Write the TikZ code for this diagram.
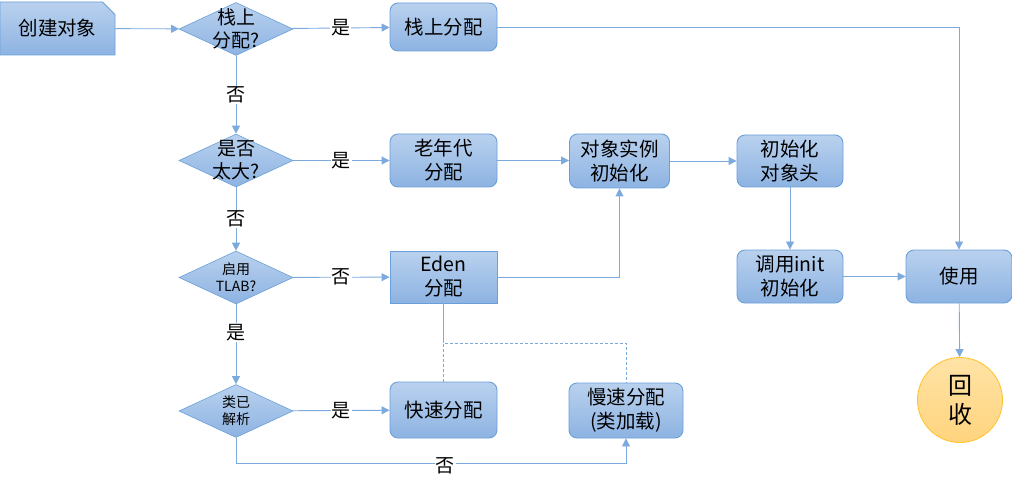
\documentclass[tikz,border=0pt]{standalone}
\usepackage{fontspec}
\setmainfont{Noto Sans CJK SC}
\usetikzlibrary{arrows.meta,shapes.geometric,shapes.misc}
\definecolor{boxtop}{HTML}{B9D1EE}
\definecolor{boxbot}{HTML}{8DB3E2}
\definecolor{boxline}{HTML}{6A9FD9}
\definecolor{flowline}{HTML}{7DAADD}
\definecolor{ringtop}{HTML}{FFE3A6}
\definecolor{ringbot}{HTML}{FFD47E}
\definecolor{ringline}{HTML}{FFC532}
\begin{document}
\begin{tikzpicture}[x=1pt,y=-1pt,
  box/.style={draw=boxline,line width=0.9pt,top color=boxtop,bottom color=boxbot,
    rounded corners=8pt,inner sep=0pt,align=center,font=\fontsize{19.5}{24}\selectfont},
  sqbox/.style={box,rounded corners=0pt},
  dia/.style={diamond,draw=boxline,line width=0.6pt,top color=boxtop,bottom color=boxbot,
    inner sep=0pt,minimum width=114pt,minimum height=53pt},
  diatext/.style={align=center,inner sep=0pt,font=\fontsize{19}{23}\selectfont},
  smalltext/.style={diatext,font=\fontsize{14}{17}\selectfont},
  flow/.style={draw=flowline,line width=0.9pt,-{Triangle[length=8pt,width=8pt]}},
  plain/.style={draw=flowline,line width=0.9pt},
  dashline/.style={draw=flowline,line width=0.7pt,dash pattern=on 3pt off 2pt},
  lbl/.style={fill=white,inner sep=1pt,font=\fontsize{19}{22}\selectfont}]
  \useasboundingbox (0,0) rectangle (1012,489);

  \node[box,chamfered rectangle,chamfered rectangle corners=north east,
    chamfered rectangle xsep=9pt,rounded corners=0pt,
    minimum width=115pt,minimum height=53pt] (create) at (57.5,28.5) {创建对象};

  \node[dia] (d1) at (236,29) {};    \node[diatext] (t1) at (d1) {栈上\\分配?};
  \node[dia] (d2) at (236,160.5) {}; \node[diatext] (t2) at (d2) {是否\\太大?};
  \node[dia] (d3) at (236,277.5) {}; \node[smalltext] (t3) at (d3) {启用\\TLAB?};
  \node[dia] (d4) at (236,411) {};   \node[smalltext] (t4) at (d4) {类已\\解析};

  \node[box,minimum width=107pt,minimum height=48pt] (stack) at (443.5,27) {栈上分配};
  \node[box,minimum width=107pt,minimum height=53pt] (old) at (443.5,160.5) {老年代\\分配};
  \node[sqbox,minimum width=107pt,minimum height=52pt] (eden) at (443.5,277) {Eden\\分配};
  \node[box,minimum width=107pt,minimum height=56pt] (fast) at (443.5,410) {快速分配};
  \node[box,minimum width=114pt,minimum height=55pt] (slow) at (626,410.5) {慢速分配\\(类加载)};
  \node[box,minimum width=100pt,minimum height=54pt] (objinit) at (619.5,161) {对象实例\\初始化};
  \node[box,minimum width=106pt,minimum height=52pt] (header) at (790,161) {初始化\\对象头};
  \node[box,minimum width=106pt,minimum height=53pt] (initcall) at (790,276.5) {调用init\\初始化};
  \node[box,minimum width=106pt,minimum height=53pt] (use) at (959,276.5) {使用};
  \node[circle,draw=ringline,line width=0.9pt,top color=ringtop,bottom color=ringbot,
    minimum size=85pt,inner sep=0pt,align=center,font=\fontsize{24}{29}\selectfont]
    (recycle) at (960,400) {回\\收};

  \path[flow] (create) -- (d1);
  \path[flow] (d1) -- node[lbl] {是} (stack);
  \path[flow] (d1) -- node[lbl] {否} (d2);
  \path[flow] (d2) -- node[lbl] {是} (old);
  \path[flow] (d2) -- node[lbl] {否} (d3);
  \path[flow] (d3) -- node[lbl] {否} (eden);
  \path[flow] (d3) -- node[lbl,pos=0.35] {是} (d4);
  \path[flow] (d4) -- node[lbl] {是} (fast);
  \path[flow] (d4.south) -- ++(0,26) -| (slow.south);
  \node[lbl] (no4) at (445,466) {否};

  \path[flow] (old.east) -- (objinit.west |- old.east);
  \path[flow] (eden.east) -| (objinit.south);
  \path[flow] (objinit) -- (header);
  \path[flow] (header) -- (initcall);
  \path[flow] (initcall) -- (use);
  \path[flow] (stack.east) -| (use.north);
  \path[flow] (use) -- (recycle);

  \coordinate (split) at (443.5,343);
  \path[plain] (eden.south) -- (split);
  \path[dashline] (fast.north) -- (split) -| (slow.north);
\end{tikzpicture}
\end{document}
